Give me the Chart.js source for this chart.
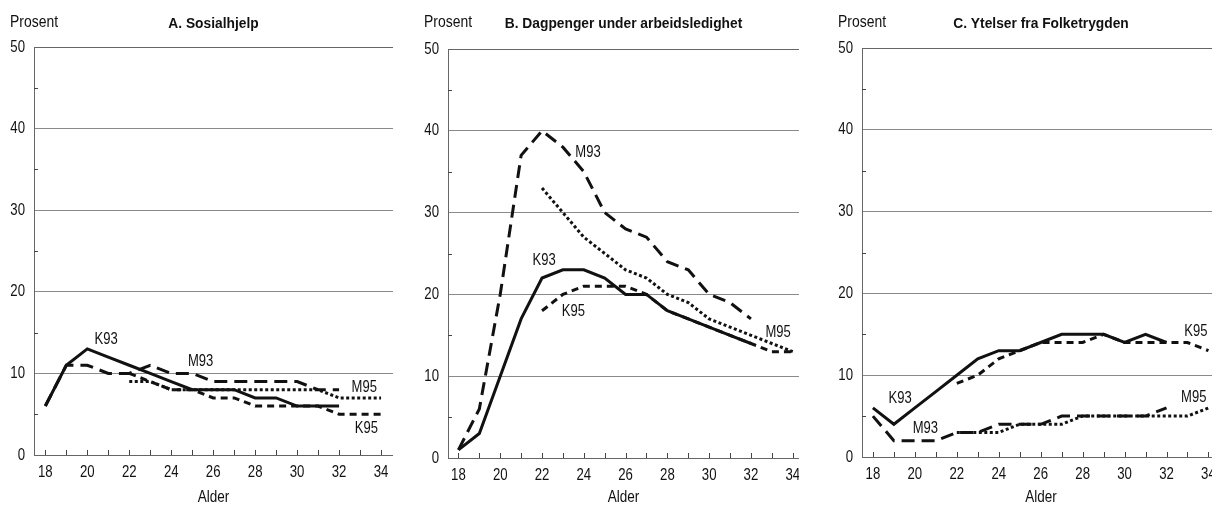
<!DOCTYPE html>
<html>
<head>
<meta charset="utf-8">
<script src="https://cdn.jsdelivr.net/npm/chart.js@4/dist/chart.umd.min.js"></script>
<style>
body { margin: 0; width: 1212px; height: 505px; overflow: hidden; background: #fff; }
.panel { position: absolute; top: 0; height: 505px; }
</style>
</head>
<body>
<div class="panel" style="left:0px;width:393px"><canvas id="chartA" width="393" height="505"></canvas></div>
<div class="panel" style="left:414px;width:385px"><canvas id="chartB" width="385" height="505"></canvas></div>
<div class="panel" style="left:828px;width:392px"><canvas id="chartC" width="392" height="505"></canvas></div>
<script>
const FONT = "'Liberation Sans', Arial, sans-serif";

// alder 18-34
const ages = [18, 19, 20, 21, 22, 23, 24, 25, 26, 27, 28, 29, 30, 31, 32, 33, 34];
const yTicks = [0, 10, 20, 30, 40, 50];

// A. Sosialhjelp
const sosK93 = [6, 11, 13, 12, 11, 10, 9, 8, 8, 8, 7, 7, 6, 6, 6, null, null];
const sosM93 = [6, 11, 11, 10, 10, 11, 10, 10, 9, 9, 9, 9, 9, 8, 8, null, null];
const sosK95 = [null, null, null, null, 10, 9, 8, 8, 7, 7, 6, 6, 6, 6, 5, 5, 5];
const sosM95 = [null, null, null, null, 9, 9, 8, 8, 8, 8, 8, 8, 8, 8, 7, 7, 7];

// B. Dagpenger under arbeidsledighet
const dagK93 = [1, 3, 10, 17, 22, 23, 23, 22, 20, 20, 18, 17, 16, 15, 14, null, null];
const dagM93 = [1, 6, 20, 37, 40, 38, 35, 30, 28, 27, 24, 23, 20, 19, 17, null, null];
const dagK95 = [null, null, null, null, 18, 20, 21, 21, 21, 20, 18, 17, 16, 15, 14, 13, 13];
const dagM95 = [null, null, null, null, 33, 30, 27, 25, 23, 22, 20, 19, 17, 16, 15, 14, 13];

// C. Ytelser fra Folketrygden
const ytK93 = [6, 4, 6, 8, 10, 12, 13, 13, 14, 15, 15, 15, 14, 15, 14, null, null];
const ytM93 = [5, 2, 2, 2, 3, 3, 4, 4, 4, 5, 5, 5, 5, 5, 6, null, null];
const ytK95 = [null, null, null, null, 9, 10, 12, 13, 14, 14, 14, 15, 14, 14, 14, 14, 13];
const ytM95 = [null, null, null, null, 3, 3, 3, 4, 4, 4, 5, 5, 5, 5, 5, 5, 6];

// linjenavn og hvor de står (alder, prosent)
const seriesNames = ['K93', 'M93', 'K95', 'M95'];
const sosNotes = [['K93', 20.9, 14.1], ['M93', 25.4, 11.5], ['M95', 33.2, 8.3], ['K95', 33.3, 3.2]];
const dagNotes = [['M93', 24.2, 37.4], ['K93', 22.1, 24.2], ['K95', 23.5, 17.9], ['M95', 33.3, 15.3]];
const ytNotes = [['K95', 33.4, 15.4], ['K93', 19.3, 7.1], ['M93', 20.5, 3.5], ['M95', 33.3, 7.3]];

const lineStyles = {
    K93: { dash: [], width: 3 },
    M93: { dash: [13, 7], width: 3 },
    K95: { dash: [7, 5], width: 3 },
    M95: { dash: [3, 2.5], width: 3 }
};

// smal skrift: tegn teksten litt sammenpresset
function drawText(ctx, text, x, y, size, bold, align, baseline, sx) {
    ctx.save();
    ctx.font = (bold ? 'bold ' : '') + size + 'px ' + FONT;
    ctx.textAlign = align;
    ctx.textBaseline = baseline;
    ctx.translate(x, y);
    ctx.scale(sx, 1);
    ctx.fillText(text, 0, 0);
    ctx.restore();
}

const framePlugin = {
    id: 'frame',
    beforeDatasetsDraw(chart) {
        const { ctx, chartArea: a, scales } = chart;
        ctx.save();
        ctx.strokeStyle = '#666';
        ctx.lineWidth = 1;
        ctx.strokeRect(a.left + 0.5, a.top + 0.5, a.right - a.left, a.bottom - a.top);
        ctx.strokeStyle = '#444';
        ctx.beginPath();
        // små streker på x-aksen
        scales.x.ticks.forEach(t => {
            const px = Math.round(scales.x.getPixelForValue(t.value)) + 0.5;
            ctx.moveTo(px, a.bottom);
            ctx.lineTo(px, a.bottom - 5);
        });
        // små streker på y-aksen
        scales.y.ticks.forEach(t => {
            if (t.value % 10 === 0) return;
            const py = Math.round(scales.y.getPixelForValue(t.value)) + 0.5;
            ctx.moveTo(a.left, py);
            ctx.lineTo(a.left + 4, py);
        });
        ctx.stroke();
        ctx.restore();
    },
    afterDraw(chart, args, opts) {
        const { ctx, chartArea: a, scales } = chart;
        ctx.save();
        ctx.fillStyle = '#111';
        drawText(ctx, 'Prosent', a.left - 24, 26.5, 17, false, 'left', 'alphabetic', 0.82);
        drawText(ctx, opts.title, (a.left + a.right) / 2, 28, 15.5, true, 'center', 'alphabetic', 0.89);
        scales.y.ticks.forEach(t => {
            if (!yTicks.includes(t.value)) return;
            drawText(ctx, String(t.value), a.left - 9, scales.y.getPixelForValue(t.value), 16.5, false, 'right', 'middle', 0.8);
        });
        scales.x.ticks.forEach(t => {
            if (t.value % 2 !== 0) return;
            drawText(ctx, String(t.value), scales.x.getPixelForValue(t.value), a.bottom + 22, 16.5, false, 'center', 'alphabetic', 0.8);
        });
        drawText(ctx, 'Alder', (a.left + a.right) / 2, 502, 16.5, false, 'center', 'alphabetic', 0.82);
        opts.notes.forEach(n => {
            drawText(ctx, n[0], scales.x.getPixelForValue(n[1]), scales.y.getPixelForValue(n[2]), 16.5, false, 'center', 'middle', 0.79);
        });
        ctx.restore();
    }
};

function makePanel(id, title, xMin, xMax, top, bottom, values, notes) {
    const datasets = seriesNames.map((name, k) => ({
        label: name,
        data: ages.map((a, i) => ({ x: a, y: values[k][i] })),
        borderColor: '#111',
        borderWidth: lineStyles[name].width,
        borderDash: lineStyles[name].dash,
        borderCapStyle: 'butt',
        borderJoinStyle: 'miter',
        pointRadius: 0,
        tension: 0,
        spanGaps: false,
        fill: false
    }));
    return new Chart(document.getElementById(id), {
        type: 'line',
        data: { datasets: datasets },
        options: {
            responsive: false,
            animation: false,
            layout: { padding: { top: top, right: 0, left: 0, bottom: 0 } },
            plugins: {
                legend: { display: false },
                tooltip: { enabled: false },
                frame: { title: title, notes: notes }
            },
            scales: {
                x: {
                    type: 'linear',
                    min: xMin,
                    max: xMax,
                    afterFit: s => { s.height = 505 - bottom; s.paddingLeft = 0; s.paddingRight = 0; },
                    grid: { display: false, drawTicks: false },
                    border: { display: false },
                    ticks: { display: false, stepSize: 1, includeBounds: false, autoSkip: false }
                },
                y: {
                    min: 0,
                    max: 50,
                    afterFit: s => { s.width = 34; s.paddingTop = 0; s.paddingBottom = 0; },
                    grid: {
                        drawTicks: false,
                        color: c => (c.tick.value % 10 === 0 && c.tick.value > 0 && c.tick.value < 50 ? '#8a8a8a' : 'rgba(0,0,0,0)'),
                        lineWidth: 1
                    },
                    border: { display: false },
                    ticks: { display: false, stepSize: 5 }
                }
            }
        },
        plugins: [framePlugin]
    });
}

makePanel('chartA', 'A. Sosialhjelp', 17.46, 34.57, 47, 455,
    [sosK93, sosM93, sosK95, sosM95], sosNotes);
makePanel('chartB', 'B. Dagpenger under arbeidsledighet', 17.5, 34.3, 49, 458,
    [dagK93, dagM93, dagK95, dagM95], dagNotes);
makePanel('chartC', 'C. Ytelser fra Folketrygden', 17.48, 34.55, 48, 457,
    [ytK93, ytM93, ytK95, ytM95], ytNotes);
</script>
</body>
</html>
